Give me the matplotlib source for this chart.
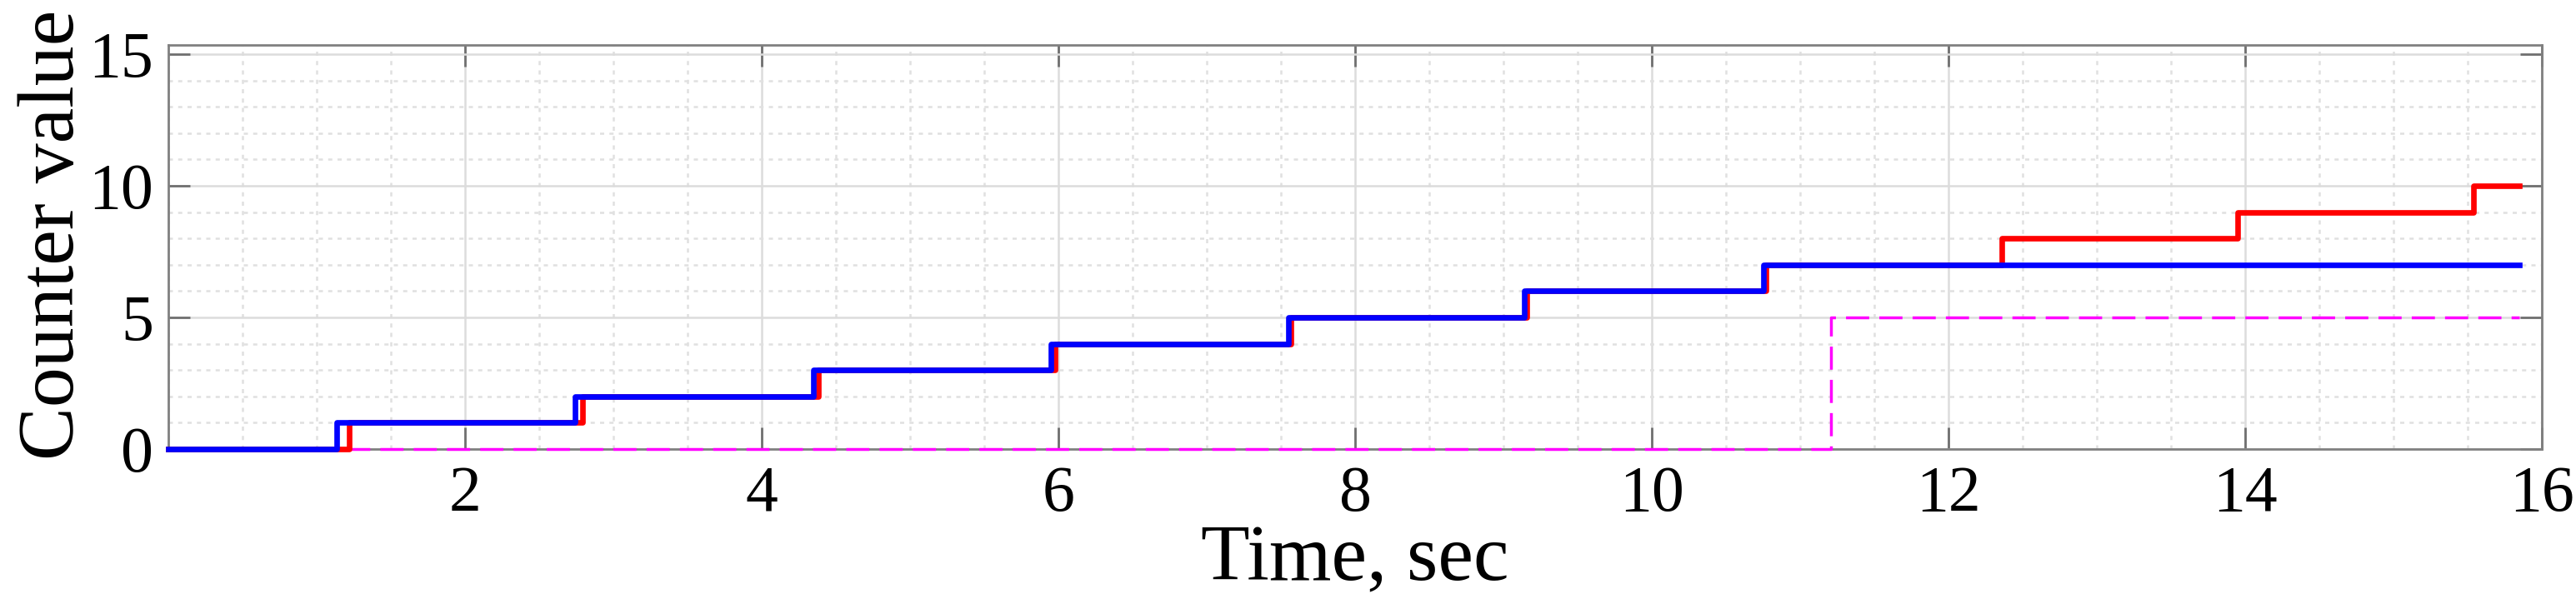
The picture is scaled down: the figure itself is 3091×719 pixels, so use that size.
import numpy as np
import matplotlib.pyplot as plt
from matplotlib.ticker import MultipleLocator

plt.rcParams['font.family'] = ['Liberation Serif', 'DejaVu Serif']

# jump times (sec) and counter values after each jump
blue_times = [0.0, 1.135, 2.74, 4.35, 5.95, 7.55, 9.14, 10.75]
blue_values = [0, 1, 2, 3, 4, 5, 6, 7]
red_times = [0.0, 1.22, 2.79, 4.38, 5.98, 7.57, 9.16, 10.77, 12.36, 13.95, 15.54]
red_values = [0, 1, 2, 3, 4, 5, 6, 7, 8, 9, 10]
magenta_times = [1.2, 11.21]
magenta_values = [0, 5]
t_end = 15.85


def step_xy(times, values, end):
    """Extend a list of jumps to the end time so step() draws the last level."""
    return list(times) + [end], list(values) + [values[-1]]


fig = plt.figure(figsize=(30.91, 7.19), dpi=100)
ax = fig.add_axes([202 / 3091, 1 - 539 / 719, (3050 - 202) / 3091, (539 - 54) / 719])

x, y = step_xy(magenta_times, magenta_values, t_end)
ax.step(x, y, where='post', color='#ff00ff', lw=2.5, dashes=(8, 3.5), zorder=3, clip_on=False)
x, y = step_xy(red_times, red_values, t_end)
ax.step(x, y, where='post', color='#ff0000', lw=4.8, zorder=4, clip_on=False)
x, y = step_xy(blue_times, blue_values, t_end)
ax.step(x, y, where='post', color='#0000ff', lw=4.8, zorder=5, clip_on=False)

ax.set_xlim(0, 16)
ax.set_ylim(0, 15.35)
ax.set_xticks([2, 4, 6, 8, 10, 12, 14, 16])
ax.set_yticks([0, 5, 10, 15])
ax.xaxis.set_minor_locator(MultipleLocator(0.5))
ax.yaxis.set_minor_locator(MultipleLocator(1))

ax.grid(which='major', color='#dcdcdc', lw=1.8, ls='-')
ax.grid(which='minor', color='#e0e0e0', lw=1.8, ls=(0, (2, 2.5)))
ax.set_axisbelow(True)

for s in ax.spines.values():
    s.set_color('#808080')
    s.set_linewidth(2)

ax.tick_params(which='major', direction='in', length=19, width=2, color='#707070',
               top=True, right=True, labelsize=56, pad=14)
ax.tick_params(which='minor', length=0)
ax.tick_params(axis='y', pad=13)

ax.set_xlabel('Time, sec', fontsize=69, labelpad=0)
ax.set_ylabel('Counter value', fontsize=69)
ax.yaxis.set_label_coords(-0.033, 0.53)

fig.savefig('out.png', dpi=100)
